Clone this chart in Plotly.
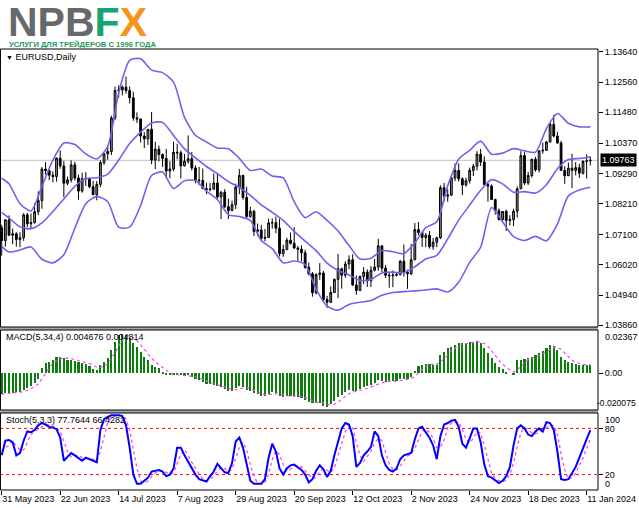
import plotly.graph_objects as go

# ---------------- data ----------------
tick_bars = [0, 16, 32, 48, 64, 80, 96, 112, 128, 144, 160]
tick_dates = ["31 May 2023", "22 Jun 2023", "14 Jul 2023", "7 Aug 2023", "29 Aug 2023",
              "20 Sep 2023", "12 Oct 2023", "2 Nov 2023", "24 Nov 2023", "18 Dec 2023", "11 Jan 2024"]

opens = [
    1.0735, 1.0689, 1.0763, 1.0708, 1.0713, 1.0693, 1.0699, 1.0781, 1.0749, 1.0753,
    1.0792, 1.0832, 1.0945, 1.0940, 1.0923, 1.0918, 1.0984, 1.0956, 1.0894, 1.0906,
    1.0960, 1.0913, 1.0866, 1.0910, 1.0911, 1.0882, 1.0853, 1.0890, 1.0968, 1.0999,
    1.1008, 1.1128, 1.1226, 1.1228, 1.1238, 1.1226, 1.1200, 1.1128, 1.1124, 1.1063,
    1.1053, 1.1087, 1.0977, 1.1016, 1.0997, 1.0983, 1.0938, 1.0945, 1.1005, 1.1003,
    1.0956, 1.0973, 1.0982, 1.0949, 1.0906, 1.0904, 1.0875, 1.0871, 1.0873, 1.0895,
    1.0845, 1.0862, 1.0810, 1.0796, 1.0817, 1.0880, 1.0922, 1.0843, 1.0775, 1.0794,
    1.0722, 1.0727, 1.0697, 1.0700, 1.0752, 1.0753, 1.0733, 1.0642, 1.0657, 1.0690,
    1.0679, 1.0662, 1.0658, 1.0645, 1.0593, 1.0570, 1.0502, 1.0567, 1.0573, 1.0478,
    1.0468, 1.0503, 1.0550, 1.0588, 1.0565, 1.0605, 1.0620, 1.0530, 1.0510, 1.0560,
    1.0576, 1.0545, 1.0583, 1.0594, 1.0670, 1.0590, 1.0565, 1.0563, 1.0565, 1.0568,
    1.0615, 1.0575, 1.0570, 1.0620, 1.0728, 1.0718, 1.0700, 1.0708, 1.0667, 1.0683,
    1.0699, 1.0878, 1.0848, 1.0852, 1.0913, 1.0940, 1.0910, 1.0888, 1.0903, 1.0940,
    1.0955, 1.0998, 1.0970, 1.0889, 1.0884, 1.0836, 1.0796, 1.0764, 1.0793, 1.0761,
    1.0764, 1.0794, 1.0874, 1.0993, 1.0895, 1.0922, 1.0980, 1.0942, 1.1010, 1.1012,
    1.1042, 1.1105, 1.1063, 1.1038, 1.0940, 1.0921, 1.0948, 1.0940, 1.0950, 1.0930,
    1.0972, 1.0974]
highs = [
    1.0745, 1.0765, 1.0779, 1.0732, 1.0719, 1.0719, 1.0787, 1.0788, 1.0786, 1.0823,
    1.0865, 1.0952, 1.0970, 1.0940, 1.0937, 1.0986, 1.1012, 1.0974, 1.0918, 1.0976,
    1.0971, 1.0925, 1.0932, 1.0934, 1.0915, 1.0903, 1.0902, 1.0976, 1.1003, 1.1026,
    1.1136, 1.1240, 1.1245, 1.1244, 1.1276, 1.1241, 1.1222, 1.1148, 1.1125, 1.1077,
    1.1087, 1.1149, 1.1043, 1.1029, 1.1001, 1.1017, 1.0973, 1.1043, 1.1035, 1.1011,
    1.0999, 1.1065, 1.1006, 1.0958, 1.0953, 1.0947, 1.0896, 1.0895, 1.0929, 1.0931,
    1.0866, 1.0873, 1.0839, 1.0832, 1.0893, 1.0945, 1.0925, 1.0882, 1.0810, 1.0799,
    1.0750, 1.0745, 1.0730, 1.0768, 1.0768, 1.0775, 1.0768, 1.0674, 1.0699, 1.0718,
    1.0737, 1.0670, 1.0672, 1.0656, 1.0610, 1.0576, 1.0572, 1.0608, 1.0580, 1.0491,
    1.0525, 1.0553, 1.0641, 1.0592, 1.0615, 1.0636, 1.0640, 1.0564, 1.0564, 1.0594,
    1.0586, 1.0598, 1.0623, 1.0695, 1.0672, 1.0601, 1.0573, 1.0582, 1.0572, 1.0619,
    1.0675, 1.0585, 1.0677, 1.0752, 1.0755, 1.0718, 1.0716, 1.0723, 1.0698, 1.0703,
    1.0887, 1.0895, 1.0873, 1.0917, 1.0965, 1.0965, 1.0915, 1.0914, 1.0950, 1.0963,
    1.1009, 1.1017, 1.0990, 1.0895, 1.0890, 1.0839, 1.0804, 1.0793, 1.0800, 1.0780,
    1.0803, 1.0883, 1.1009, 1.1005, 1.0935, 1.0982, 1.0988, 1.1012, 1.1040, 1.1045,
    1.1112, 1.1139, 1.1078, 1.1046, 1.0955, 1.0968, 1.0999, 1.0970, 1.0964, 1.0976,
    1.0998, 1.0990]
lows = [
    1.0635, 1.0667, 1.0705, 1.0676, 1.0667, 1.0665, 1.0688, 1.0737, 1.0732, 1.0750,
    1.0780, 1.0803, 1.0925, 1.0905, 1.0897, 1.0900, 1.0946, 1.0844, 1.0887, 1.0897,
    1.0904, 1.0835, 1.0860, 1.0884, 1.0876, 1.0852, 1.0833, 1.0880, 1.0960, 1.0978,
    1.0995, 1.1120, 1.1200, 1.1209, 1.1215, 1.1180, 1.1118, 1.1110, 1.1040, 1.1020,
    1.1031, 1.0962, 1.0945, 1.0972, 1.0953, 1.0912, 1.0912, 1.0937, 1.0980, 1.0911,
    1.0955, 1.0964, 1.0940, 1.0894, 1.0887, 1.0873, 1.0855, 1.0865, 1.0871, 1.0834,
    1.0766, 1.0805, 1.0766, 1.0796, 1.0802, 1.0855, 1.0835, 1.0770, 1.0770, 1.0705,
    1.0705, 1.0686, 1.0686, 1.0700, 1.0731, 1.0715, 1.0632, 1.0631, 1.0654, 1.0675,
    1.0660, 1.0616, 1.0615, 1.0588, 1.0565, 1.0488, 1.0496, 1.0548, 1.0470, 1.0448,
    1.0465, 1.0501, 1.0483, 1.0517, 1.0556, 1.0586, 1.0526, 1.0495, 1.0510, 1.0533,
    1.0523, 1.0523, 1.0578, 1.0581, 1.0576, 1.0555, 1.0520, 1.0522, 1.0560, 1.0563,
    1.0560, 1.0516, 1.0565, 1.0620, 1.0708, 1.0666, 1.0665, 1.0660, 1.0656, 1.0665,
    1.0694, 1.0828, 1.0828, 1.0848, 1.0902, 1.0900, 1.0852, 1.0882, 1.0893, 1.0920,
    1.0940, 1.0956, 1.0888, 1.0828, 1.0834, 1.0782, 1.0761, 1.0757, 1.0723, 1.0743,
    1.0741, 1.0771, 1.0874, 1.0888, 1.0888, 1.0914, 1.0935, 1.0933, 1.1000, 1.1010,
    1.1040, 1.1058, 1.1036, 1.0939, 1.0892, 1.0920, 1.0877, 1.0922, 1.0913, 1.0925,
    1.0911, 1.0958]
closes = [
    1.0689, 1.0763, 1.0708, 1.0713, 1.0693, 1.0699, 1.0781, 1.0749, 1.0753, 1.0792,
    1.0832, 1.0945, 1.0940, 1.0923, 1.0918, 1.0984, 1.0956, 1.0894, 1.0906, 1.0960,
    1.0913, 1.0866, 1.0910, 1.0911, 1.0882, 1.0853, 1.0890, 1.0968, 1.0999, 1.1008,
    1.1128, 1.1226, 1.1228, 1.1238, 1.1226, 1.1200, 1.1128, 1.1124, 1.1063, 1.1053,
    1.1087, 1.0977, 1.1016, 1.0997, 1.0983, 1.0938, 1.0945, 1.1005, 1.1003, 1.0956,
    1.0973, 1.0982, 1.0949, 1.0906, 1.0904, 1.0875, 1.0871, 1.0873, 1.0895, 1.0845,
    1.0862, 1.0810, 1.0796, 1.0817, 1.0880, 1.0922, 1.0843, 1.0775, 1.0794, 1.0722,
    1.0727, 1.0697, 1.0700, 1.0752, 1.0753, 1.0733, 1.0642, 1.0657, 1.0690, 1.0679,
    1.0662, 1.0658, 1.0645, 1.0593, 1.0570, 1.0502, 1.0567, 1.0573, 1.0478, 1.0468,
    1.0503, 1.0550, 1.0588, 1.0565, 1.0605, 1.0620, 1.0530, 1.0510, 1.0560, 1.0576,
    1.0545, 1.0583, 1.0594, 1.0670, 1.0590, 1.0565, 1.0563, 1.0565, 1.0568, 1.0615,
    1.0575, 1.0570, 1.0620, 1.0728, 1.0718, 1.0700, 1.0708, 1.0667, 1.0683, 1.0699,
    1.0878, 1.0848, 1.0852, 1.0913, 1.0940, 1.0910, 1.0888, 1.0903, 1.0940, 1.0955,
    1.0998, 1.0970, 1.0889, 1.0884, 1.0836, 1.0796, 1.0764, 1.0793, 1.0761, 1.0764,
    1.0794, 1.0874, 1.0993, 1.0895, 1.0922, 1.0980, 1.0942, 1.1010, 1.1012, 1.1042,
    1.1105, 1.1063, 1.1038, 1.0940, 1.0921, 1.0948, 1.0940, 1.0950, 1.0930, 1.0972,
    1.0974, 1.09763]

bb_bars = [0, 2, 5, 8, 11, 14, 17, 20, 23, 26, 29, 32, 35, 38, 41, 44, 47, 50, 53, 56,
           59, 62, 65, 68, 71, 74, 77, 80, 83, 86, 89, 92, 95, 98, 101, 104, 107, 110,
           113, 116, 119, 122, 125, 128, 131, 134, 137, 140, 143, 146, 149, 152, 155, 158, 161]
bb_upper = [1.0912, 1.0892, 1.0821, 1.0795, 1.0883, 1.0977, 1.1038, 1.1033, 1.0999, 1.0981,
            1.1026, 1.1217, 1.1334, 1.1340, 1.1299, 1.1290, 1.1256, 1.1130, 1.1066, 1.1042,
            1.1020, 1.1018, 1.0983, 1.0940, 1.0945, 1.0920, 1.0913, 1.0828, 1.0771, 1.0792,
            1.0761, 1.0723, 1.0671, 1.0623, 1.0626, 1.0653, 1.0649, 1.0642, 1.0681, 1.0735,
            1.0756, 1.0885, 1.0980, 1.1012, 1.1045, 1.0998, 1.1002, 1.1018, 1.1010, 1.1005,
            1.1090, 1.1144, 1.1109, 1.1096, 1.1096]
bb_middle = [1.0790, 1.0770, 1.0738, 1.0731, 1.0752, 1.0793, 1.0838, 1.0883, 1.0910, 1.0914,
             1.0927, 1.0977, 1.1036, 1.1077, 1.1110, 1.1112, 1.1065, 1.1017, 1.0985, 1.0954,
             1.0928, 1.0900, 1.0879, 1.0851, 1.0817, 1.0790, 1.0761, 1.0722, 1.0687, 1.0653,
             1.0608, 1.0582, 1.0566, 1.0546, 1.0550, 1.0573, 1.0576, 1.0574, 1.0595, 1.0623,
             1.0636, 1.0695, 1.0762, 1.0816, 1.0869, 1.0907, 1.0892, 1.0862, 1.0864, 1.0859,
             1.0889, 1.0946, 1.0979, 1.0983, 1.0988]
bb_lower = [1.0668, 1.0648, 1.0655, 1.0666, 1.0622, 1.0609, 1.0638, 1.0733, 1.0821, 1.0847,
            1.0828, 1.0737, 1.0737, 1.0815, 1.0922, 1.0934, 1.0875, 1.0903, 1.0904, 1.0866,
            1.0836, 1.0782, 1.0775, 1.0761, 1.0689, 1.0660, 1.0609, 1.0616, 1.0603, 1.0515,
            1.0454, 1.0440, 1.0460, 1.0468, 1.0474, 1.0493, 1.0503, 1.0506, 1.0509, 1.0512,
            1.0516, 1.0505, 1.0540, 1.0611, 1.0665, 1.0807, 1.0756, 1.0703, 1.0689, 1.0704,
            1.0688, 1.0748, 1.0849, 1.0870, 1.0880]

macd_hist = [
    -0.0112, -0.0110, -0.0110, -0.0108, -0.0105, -0.0100, -0.0090, -0.0078, -0.0070, -0.0055,
    -0.0033, 0.0030, 0.0055, 0.0064, 0.0073, 0.0087, 0.0091, 0.0082, 0.0075, 0.0073,
    0.0068, 0.0064, 0.0058, 0.0050, 0.0040, 0.0022, 0.0020, 0.0046, 0.0064, 0.0082,
    0.0128, 0.0173, 0.0210, 0.0213, 0.0210, 0.0191, 0.0164, 0.0146, 0.0118, 0.0091,
    0.0073, 0.0046, 0.0036, 0.0027, 0.0005, -0.0005, -0.0010, -0.0008, -0.0006, -0.0012,
    -0.0014, -0.0012, -0.0018, -0.0030, -0.0038, -0.0048, -0.0056, -0.0060, -0.0062, -0.0070,
    -0.0075, -0.0085, -0.0095, -0.0095, -0.0080, -0.0068, -0.0075, -0.0090, -0.0098, -0.0110,
    -0.0115, -0.0122, -0.0122, -0.0112, -0.0105, -0.0108, -0.0125, -0.0130, -0.0125, -0.0122,
    -0.0125, -0.0128, -0.0133, -0.0145, -0.0155, -0.0165, -0.0160, -0.0162, -0.0178, -0.0182,
    -0.0170, -0.0150, -0.0130, -0.0118, -0.0105, -0.0092, -0.0095, -0.0098, -0.0085, -0.0075,
    -0.0072, -0.0062, -0.0055, -0.0038, -0.0040, -0.0045, -0.0045, -0.0044, -0.0042, -0.0030,
    -0.0032, -0.0033, -0.0022, 0.0015, 0.0040, 0.0048, 0.0052, 0.0050, 0.0048, 0.0046,
    0.0100, 0.0118, 0.0137, 0.0146, 0.0155, 0.0164, 0.0165, 0.0167, 0.0170, 0.0173,
    0.0177, 0.0164, 0.0137, 0.0109, 0.0082, 0.0055, 0.0036, 0.0024, 0.0009, 0.0000,
    -0.0005, 0.0070, 0.0075, 0.0078, 0.0082, 0.0091, 0.0100, 0.0109, 0.0122, 0.0137,
    0.0155, 0.0150, 0.0128, 0.0091, 0.0073, 0.0064, 0.0055, 0.0049, 0.0046, 0.0046,
    0.0046, 0.004676]
macd_signal = [
    -0.0115, -0.0113, -0.0111, -0.0110, -0.0108, -0.0106, -0.0101, -0.0093, -0.0085, -0.0073,
    -0.0059, -0.0032, -0.0001, 0.0029, 0.0056, 0.0070, 0.0079, 0.0083, 0.0084, 0.0080,
    0.0075, 0.0070, 0.0066, 0.0060, 0.0053, 0.0043, 0.0033, 0.0032, 0.0038, 0.0053,
    0.0080, 0.0112, 0.0148, 0.0181, 0.0202, 0.0206, 0.0195, 0.0178, 0.0155, 0.0130,
    0.0107, 0.0082, 0.0062, 0.0046, 0.0029, 0.0016, 0.0004, -0.0005, -0.0007, -0.0009,
    -0.0010, -0.0011, -0.0014, -0.0019, -0.0025, -0.0034, -0.0043, -0.0051, -0.0057, -0.0062,
    -0.0067, -0.0073, -0.0081, -0.0088, -0.0089, -0.0085, -0.0080, -0.0078, -0.0083, -0.0093,
    -0.0103, -0.0111, -0.0117, -0.0118, -0.0115, -0.0112, -0.0113, -0.0117, -0.0122, -0.0126,
    -0.0126, -0.0125, -0.0127, -0.0133, -0.0140, -0.0150, -0.0156, -0.0161, -0.0166, -0.0171,
    -0.0173, -0.0170, -0.0158, -0.0143, -0.0126, -0.0111, -0.0103, -0.0098, -0.0093, -0.0089,
    -0.0083, -0.0074, -0.0066, -0.0057, -0.0049, -0.0045, -0.0042, -0.0044, -0.0044, -0.0040,
    -0.0037, -0.0034, -0.0029, -0.0018, 0.0000, 0.0020, 0.0039, 0.0048, 0.0050, 0.0049,
    0.0061, 0.0078, 0.0100, 0.0125, 0.0139, 0.0151, 0.0158, 0.0163, 0.0167, 0.0169,
    0.0172, 0.0171, 0.0163, 0.0147, 0.0123, 0.0096, 0.0071, 0.0049, 0.0031, 0.0017,
    0.0007, 0.0019, 0.0037, 0.0055, 0.0076, 0.0082, 0.0088, 0.0096, 0.0106, 0.0117,
    0.0131, 0.0141, 0.0143, 0.0131, 0.0111, 0.0089, 0.0071, 0.0060, 0.0054, 0.0049,
    0.0047, 0.004814]

stoch_k = [
    45, 64, 65, 62, 45, 48, 64, 76, 75, 78,
    84, 87, 85, 82, 81, 79, 68, 38, 43, 48,
    45, 42, 38, 42, 40, 37, 36, 78, 92, 95,
    97, 97, 97, 96, 84, 55, 20, 8, 8, 12,
    16, 24, 25, 26, 24, 18, 20, 28, 55, 55,
    45, 36, 28, 20, 14, 12, 11, 18, 24, 34,
    28, 23, 22, 35, 63, 68, 55, 33, 12, 8,
    8, 8, 14, 42, 60, 50, 28, 20, 28, 32,
    33, 30, 26, 20, 10, 14, 25, 32, 27, 17,
    25, 45, 62, 80, 87, 85, 70, 30, 35, 45,
    50, 56, 76, 70, 45, 32, 26, 24, 28, 40,
    45, 47, 48, 66, 80, 82, 75, 68, 58, 40,
    70, 85, 87, 90, 91, 82, 60, 55, 67, 80,
    80, 62, 33, 18, 16, 12, 9, 12, 18, 30,
    58, 80, 84, 80, 72, 70, 76, 80, 76, 88,
    87, 78, 50, 14, 13, 14, 22, 30, 42, 55,
    66, 77.7644]
stoch_d = [
    50, 55, 58, 64, 57, 52, 52, 63, 72, 76,
    79, 83, 85, 85, 83, 81, 76, 62, 50, 43,
    45, 45, 42, 41, 40, 40, 38, 50, 69, 88,
    95, 96, 97, 97, 92, 78, 53, 28, 12, 9,
    12, 17, 22, 25, 25, 23, 21, 22, 34, 46,
    52, 45, 36, 28, 21, 15, 12, 14, 18, 25,
    29, 28, 24, 27, 40, 55, 62, 52, 33, 18,
    9, 8, 10, 21, 39, 51, 46, 33, 25, 27,
    31, 32, 30, 25, 19, 15, 16, 24, 28, 25,
    23, 29, 44, 62, 76, 84, 81, 62, 45, 37,
    43, 50, 61, 67, 64, 49, 34, 27, 26, 31,
    38, 44, 47, 54, 65, 76, 79, 75, 67, 55,
    56, 65, 81, 87, 89, 88, 78, 66, 61, 67,
    76, 74, 58, 38, 22, 15, 12, 11, 13, 20,
    35, 56, 74, 81, 79, 74, 73, 75, 77, 81,
    84, 84, 72, 47, 26, 14, 16, 22, 31, 42,
    54, 66.4282]

price_ticks = [1.13640, 1.12560, 1.11480, 1.10370, 1.09290, 1.08210, 1.07100, 1.06020, 1.04940, 1.03860]
price_tick_labels = ["1.13640", "1.12560", "1.11480", "1.10370", "1.09290",
                     "1.08210", "1.07100", "1.06020", "1.04940", "1.03860"]
last_price = 1.09763
macd_top, macd_bottom = 0.02367, -0.020075
stoch_levels = [80, 20]

bars = list(range(len(closes)))

# ---------------- geometry helpers ----------------
W, H = 639, 508
MT, MB, MR = 49, 18, 41
PH = H - MT - MB          # plot height in px
PW = W - MR               # plot width in px


def py(ypx):
    return (H - MB - ypx) / PH


def px(xpx):
    return xpx / PW


FONT = "Liberation Sans, Arial, sans-serif"
BAND = "#6d63f0"

fig = go.Figure()

fig.add_trace(go.Candlestick(
    x=bars, open=opens, high=highs, low=lows, close=closes,
    increasing=dict(line=dict(color="black", width=1), fillcolor="#8a8a8a"),
    decreasing=dict(line=dict(color="black", width=1), fillcolor="black"),
    whiskerwidth=0, xaxis="x", yaxis="y", hoverinfo="skip"))

for band in (bb_upper, bb_middle, bb_lower):
    fig.add_trace(go.Scatter(x=bb_bars, y=band, mode="lines",
                             line=dict(color=BAND, width=1.6, shape="spline", smoothing=0.7),
                             xaxis="x", yaxis="y", hoverinfo="skip"))

fig.add_trace(go.Bar(x=bars, y=macd_hist, width=0.58, marker=dict(color="#0a800a", line=dict(width=0)),
                     xaxis="x", yaxis="y2", hoverinfo="skip"))
fig.add_trace(go.Scatter(x=bars, y=macd_signal, mode="lines",
                         line=dict(color="#ff40ff", width=1.2, dash="dot"),
                         xaxis="x", yaxis="y2", hoverinfo="skip"))

fig.add_trace(go.Scatter(x=bars, y=stoch_d, mode="lines",
                         line=dict(color="#ff40ff", width=1.3, dash="dot"),
                         xaxis="x", yaxis="y3", hoverinfo="skip"))
fig.add_trace(go.Scatter(x=bars, y=stoch_k, mode="lines",
                         line=dict(color="#0000ff", width=2),
                         xaxis="x", yaxis="y3", hoverinfo="skip"))

dom_main = [py(327), 1.0]
dom_macd = [py(410), py(330)]
dom_stoch = [0.0, py(413)]

x_lo = -1.7 / 3.656
x_hi = (PW - 1.7) / 3.656

axis_font = dict(family=FONT, size=9, color="black")

fig.update_layout(
    width=W, height=H, autosize=False,
    margin=dict(l=0, r=MR, t=MT, b=MB, pad=0),
    paper_bgcolor="white", plot_bgcolor="white",
    showlegend=False, bargap=0,
    xaxis=dict(domain=[0, 1], range=[x_lo, x_hi], anchor="y3",
               tickmode="array", tickvals=tick_bars, ticktext=tick_dates,
               ticks="outside", ticklen=4, tickcolor="black", tickwidth=1,
               ticklabelposition="outside right", tickangle=0,
               showgrid=False, zeroline=False, showline=False,
               tickfont=axis_font, rangeslider=dict(visible=False), fixedrange=True),
    yaxis=dict(domain=dom_main, range=[1.03795, 1.13747], side="right", anchor="x",
               tickmode="array", tickvals=price_ticks, ticktext=price_tick_labels,
               ticks="outside", ticklen=4, tickcolor="black",
               showgrid=False, zeroline=False, showline=False, tickfont=axis_font),
    yaxis2=dict(domain=dom_macd, range=[macd_bottom, macd_top], side="right", anchor="x",
                tickmode="array", tickvals=[0], ticktext=["0.00"],
                ticks="outside", ticklen=4, tickcolor="black",
                showgrid=False, zeroline=False, showline=False, tickfont=axis_font),
    yaxis3=dict(domain=dom_stoch, range=[0, 100], side="right", anchor="x",
                tickmode="array", tickvals=stoch_levels, ticktext=[str(v) for v in stoch_levels],
                ticks="outside", ticklen=4, tickcolor="black",
                showgrid=False, zeroline=False, showline=False, tickfont=axis_font),
)

shapes = []
# separators between panels
shapes.append(dict(type="rect", xref="paper", yref="paper", x0=0, x1=1, y0=py(330), y1=py(327),
                   fillcolor="#a8a8a8", line=dict(width=0), layer="above"))
shapes.append(dict(type="rect", xref="paper", yref="paper", x0=0, x1=1, y0=py(413), y1=py(410),
                   fillcolor="#a8a8a8", line=dict(width=0), layer="above"))
# panel frames
for d in (dom_main, dom_macd, dom_stoch):
    shapes.append(dict(type="rect", xref="paper", yref="paper", x0=0.0008, x1=1, y0=d[0], y1=d[1],
                       line=dict(color="black", width=1), fillcolor="rgba(0,0,0,0)", layer="above"))
# last price line
shapes.append(dict(type="line", xref="paper", yref="y", x0=0, x1=1, y0=last_price, y1=last_price,
                   line=dict(color="#c0c0c0", width=1), layer="below"))
# stochastic levels
for lv in stoch_levels:
    shapes.append(dict(type="line", xref="paper", yref="y3", x0=0, x1=1, y0=lv, y1=lv,
                       line=dict(color="#ff0000", width=1, dash="dot"), layer="below"))
fig.update_layout(shapes=shapes)

ann = []
# logo
ann.append(dict(xref="paper", yref="paper", x=px(6), y=py(22), xanchor="left", yanchor="middle",
                text="<b><span style='color:#67686b'>NPB</span><span style='color:#18a373'>F</span>"
                     "<span style='color:#f7941d'>X</span></b>",
                showarrow=False, font=dict(family=FONT, size=41)))
ann.append(dict(xref="paper", yref="paper", x=px(7), y=py(44.5), xanchor="left", yanchor="middle",
                text="<b>УСЛУГИ ДЛЯ ТРЕЙДЕРОВ С 1996 ГОДА</b>", showarrow=False,
                font=dict(family=FONT, size=7.6, color="#1f9a5c")))
# panel titles
ann.append(dict(xref="paper", yref="paper", x=px(4), y=py(57), xanchor="left", yanchor="middle",
                text="<span style='font-size:7px'>▼</span> EURUSD,Daily", showarrow=False,
                font=dict(family=FONT, size=9, color="black")))
ann.append(dict(xref="paper", yref="paper", x=px(4), y=py(337), xanchor="left", yanchor="middle",
                text="MACD(5,34,4) 0.004676 0.004814", showarrow=False,
                font=dict(family=FONT, size=9, color="black")))
ann.append(dict(xref="paper", yref="paper", x=px(4), y=py(420), xanchor="left", yanchor="middle",
                text="Stoch(5,3,3) 77.7644 66.4282", showarrow=False,
                font=dict(family=FONT, size=9, color="black")))
# current price box
ann.append(dict(xref="paper", yref="y", x=1, y=last_price, xanchor="left", yanchor="middle",
                xshift=2, text="1.09763", showarrow=False, bgcolor="black", borderpad=1,
                font=dict(family=FONT, size=9, color="white")))
# edge labels of sub-windows
ann.append(dict(xref="paper", yref="y2", x=1, y=macd_top, xanchor="left", yanchor="top", xshift=5,
                text="0.02367", showarrow=False, font=axis_font))
ann.append(dict(xref="paper", yref="y2", x=px(W - 1), y=macd_bottom, xanchor="right", yanchor="bottom",
                text="-0.020075", showarrow=False, font=dict(family=FONT, size=8.6, color="black")))
ann.append(dict(xref="paper", yref="y3", x=1, y=100, xanchor="left", yanchor="top", xshift=5,
                text="100", showarrow=False, font=axis_font))
ann.append(dict(xref="paper", yref="y3", x=1, y=0, xanchor="left", yanchor="bottom", xshift=5, yshift=-1,
                text="0", showarrow=False, font=axis_font))
fig.update_layout(annotations=ann)

fig.write_html("out.html", config={"displayModeBar": False},
               post_script="document.body.style.margin='0px';document.body.style.padding='0px';")
